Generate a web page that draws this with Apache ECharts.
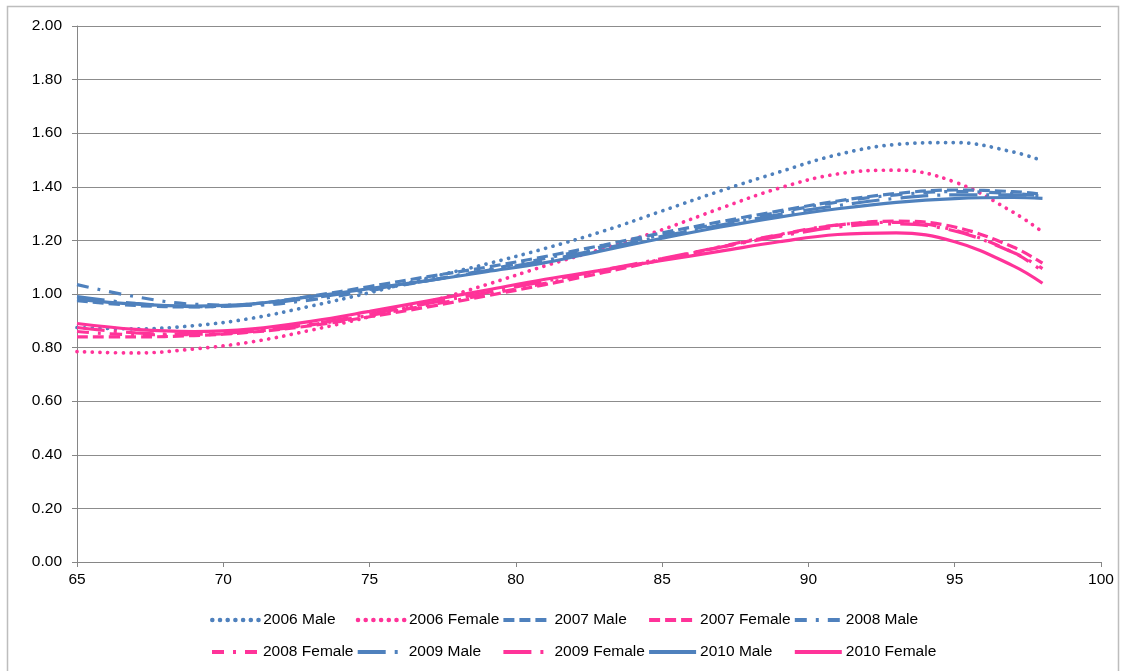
<!DOCTYPE html>
<html>
<head>
<meta charset="utf-8">
<script src="https://cdn.jsdelivr.net/npm/echarts@6/dist/echarts.min.js"></script>
<style>
  html, body { margin: 0; padding: 0; background: #fff; }
  #chart { width: 1121px; height: 671px; }
</style>
</head>
<body>
<div id="chart"></div>
<script>
// ages the trend curves were read at
var ages = [65, 67, 69, 71, 73, 75, 77, 79, 81, 83, 85, 87, 89, 91, 93, 95, 97, 98];

var male2006   = [0.875, 0.870, 0.882, 0.910, 0.955, 1.005, 1.060, 1.112, 1.170, 1.235, 1.310, 1.385, 1.455, 1.520, 1.558, 1.565, 1.530, 1.497];
var female2006 = [0.785, 0.780, 0.795, 0.822, 0.865, 0.915, 0.970, 1.035, 1.105, 1.170, 1.240, 1.320, 1.395, 1.448, 1.462, 1.418, 1.305, 1.232];
var male2007   = [0.975, 0.957, 0.952, 0.963, 0.992, 1.028, 1.065, 1.100, 1.140, 1.183, 1.228, 1.270, 1.310, 1.347, 1.375, 1.388, 1.382, 1.372];
var female2007 = [0.840, 0.840, 0.845, 0.858, 0.882, 0.915, 0.952, 0.993, 1.035, 1.080, 1.128, 1.175, 1.220, 1.257, 1.272, 1.250, 1.175, 1.115];
var male2008   = [1.035, 0.990, 0.962, 0.958, 0.978, 1.012, 1.050, 1.090, 1.133, 1.177, 1.220, 1.263, 1.305, 1.343, 1.370, 1.382, 1.375, 1.365];
var female2008 = [0.860, 0.848, 0.848, 0.860, 0.885, 0.920, 0.958, 0.998, 1.040, 1.085, 1.130, 1.177, 1.222, 1.258, 1.267, 1.238, 1.155, 1.085];
var male2009   = [0.990, 0.965, 0.953, 0.960, 0.985, 1.017, 1.050, 1.087, 1.125, 1.170, 1.215, 1.257, 1.296, 1.330, 1.357, 1.370, 1.370, 1.365];
var female2009 = [0.875, 0.855, 0.850, 0.862, 0.888, 0.925, 0.965, 1.005, 1.048, 1.090, 1.132, 1.175, 1.215, 1.250, 1.262, 1.235, 1.155, 1.095];
var male2010   = [0.980, 0.962, 0.955, 0.963, 0.990, 1.020, 1.050, 1.083, 1.117, 1.163, 1.208, 1.250, 1.287, 1.318, 1.342, 1.356, 1.360, 1.357];
var female2010 = [0.890, 0.868, 0.860, 0.870, 0.898, 0.935, 0.975, 1.015, 1.055, 1.090, 1.125, 1.160, 1.195, 1.222, 1.228, 1.195, 1.105, 1.040];

var seriesNames = ['2006 Male', '2006 Female', '2007 Male', '2007 Female', '2008 Male',
                   '2008 Female', '2009 Male', '2009 Female', '2010 Male', '2010 Female'];
var seriesValues = [male2006, female2006, male2007, female2007, male2008,
                    female2008, male2009, female2009, male2010, female2010];

var BLUE = '#4f81bd';
var PINK = '#ff3399';
var FONT = '"Liberation Sans", Arial, sans-serif';

// line style per year
function styleFor(name, w) {
  var color = name.indexOf('Female') >= 0 ? PINK : BLUE;
  var year = name.slice(0, 4);
  if (year == '2006') return { color: color, width: w + 0.5, type: [0.1, 7.6], cap: 'round' };
  if (year == '2007') return { color: color, width: w, type: [11, 5] };
  if (year == '2008') return { color: color, width: w, type: [12, 9, 3, 9] };
  if (year == '2009') return { color: color, width: w, type: [28, 9, 3, 9] };
  return { color: color, width: w, type: 'solid' };
}

var series = [];
var legends = [];
seriesNames.forEach(function (name, i) {
  var vals = seriesValues[i];
  var pts = [];
  for (var k = 0; k < ages.length; k++) pts.push([ages[k], vals[k]]);
  var ls = styleFor(name, 3.2);
  series.push({
    name: name,
    type: 'line',
    data: pts,
    smooth: 0.4,
    symbol: 'none',
    showSymbol: false,
    color: ls.color,
    lineStyle: ls,
    emphasis: { disabled: true },
    silent: true
  });
  var col = i % 5, row = Math.floor(i / 5);
  legends.push({
    data: [name],
    left: 210 + col * 145.7,
    top: row == 0 ? 612 : 644,
    padding: 0,
    itemWidth: 47,
    itemHeight: 14,
    selectedMode: false,
    itemStyle: { opacity: 0 },
    lineStyle: styleFor(name, 4),
    textStyle: { fontSize: 15.5, color: '#000', fontFamily: FONT, padding: [0, 0, 0, -1] }
  });
});

var chart = echarts.init(document.getElementById('chart'), null, { renderer: 'canvas' });
chart.setOption({
  backgroundColor: '#fff',
  animation: false,
  textStyle: { fontFamily: FONT },
  graphic: [{
    type: 'rect',
    shape: { x: 7.5, y: 6.5, width: 1111, height: 700 },
    style: { fill: 'none', stroke: '#bdbdbd', lineWidth: 1.5 },
    silent: true
  }],
  grid: { left: 77, right: 20, top: 26, bottom: 109 },
  legend: legends,
  xAxis: {
    type: 'value',
    min: 65,
    max: 100,
    interval: 5,
    axisLine: { show: true, onZero: false, lineStyle: { color: '#868686', width: 1 } },
    axisTick: { show: true, length: 5, lineStyle: { color: '#868686' } },
    splitLine: { show: false },
    axisLabel: { color: '#000', fontSize: 15.5, fontFamily: FONT, margin: 10 }
  },
  yAxis: {
    type: 'value',
    min: 0,
    max: 2,
    interval: 0.2,
    axisLine: { show: true, lineStyle: { color: '#868686', width: 1 } },
    axisTick: { show: true, length: 5, lineStyle: { color: '#868686' } },
    splitLine: { show: true, lineStyle: { color: '#8c8c8c', width: 1 } },
    axisLabel: {
      color: '#000', fontSize: 15.5, fontFamily: FONT, margin: 15,
      formatter: function (v) { return v.toFixed(2); }
    }
  },
  series: series
});
</script>
</body>
</html>
